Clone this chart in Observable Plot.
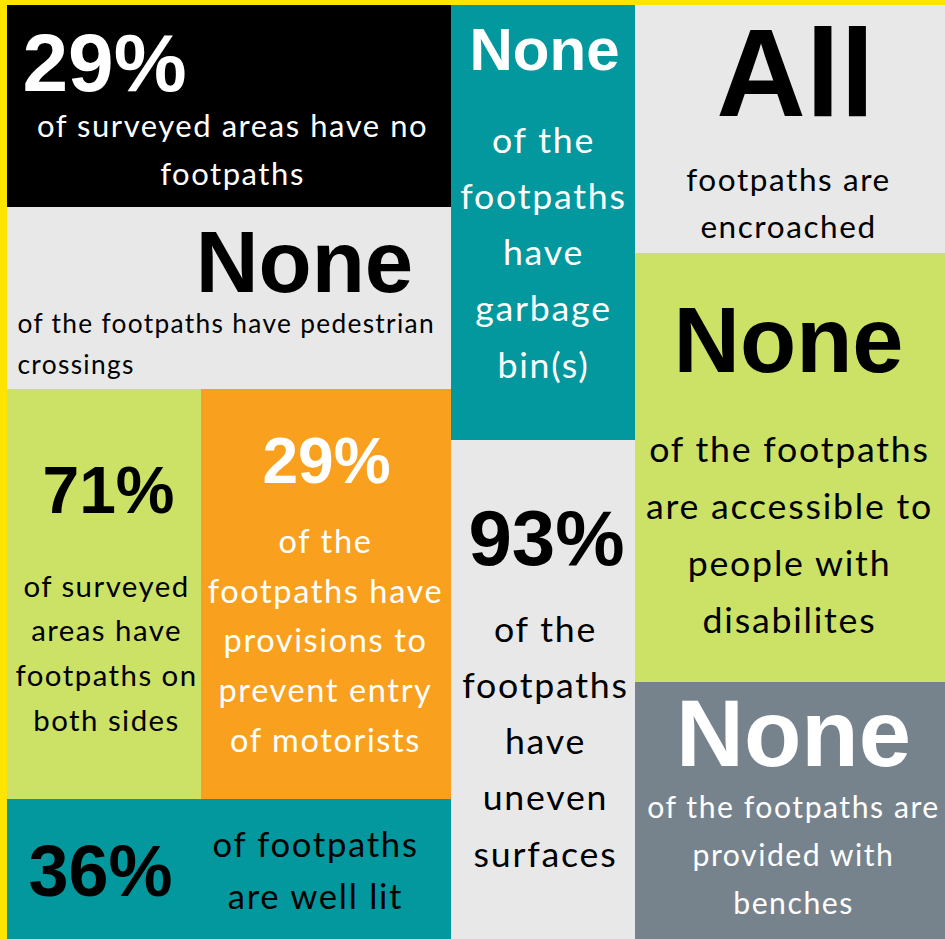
<!DOCTYPE html>
<html><head><meta charset="utf-8">
<script src="https://cdn.jsdelivr.net/npm/d3@7"></script>
<script src="https://cdn.jsdelivr.net/npm/@observablehq/plot@0.6"></script>
<style>
html,body{margin:0;padding:0;background:#ffe400;}
#chart svg{display:block;}
#chart g[font-family^="Lato"] text{letter-spacing:0.05em;}
</style>
</head><body><div id="chart"></div>
<script>
// ---- data ----
const headlines = ["29%", "None", "71%", "29%", "36%", "None", "93%", "All", "None", "None"];
const captions = [
  "of surveyed areas have no\nfootpaths",
  "of the footpaths have pedestrian\ncrossings",
  "of surveyed\nareas have\nfootpaths on\nboth sides",
  "of the\nfootpaths have\nprovisions to\nprevent entry\nof motorists",
  "of footpaths\nare well lit",
  "of the\nfootpaths\nhave\ngarbage\nbin(s)",
  "of the\nfootpaths\nhave\nuneven\nsurfaces",
  "footpaths are\nencroached",
  "of the footpaths\nare accessible to\npeople with\ndisabilites",
  "of the footpaths are\nprovided with\nbenches"
];

// ---- layout (cell boxes in page units) ----
const boxes = [
  [7, 451, 5, 207], [7, 451, 207, 389], [7, 201, 389, 799], [201, 451, 389, 799], [7, 451, 799, 939],
  [451, 635, 5, 440], [451, 635, 440, 939], [635, 945, 5, 253], [635, 945, 253, 682], [635, 945, 682, 939]
];
// headline: x, y, size, anchor ; caption: x, y, size, lineHeight, anchor
const headPos = [
  [22, 64, 82, "start"], [304, 264, 87, "middle"], [108, 491, 66, "middle"], [326, 462, 64, "middle"], [100, 872, 72, "middle"],
  [544, 50, 60, "middle"], [546, 540, 78, "middle"], [795, 76, 124, "middle"], [788, 342, 92, "middle"], [793, 735, 94, "middle"]
];
const capPos = [
  [232, 145, 31, 1.54, "middle"], [17, 340, 26.3, 1.56, "start"], [106, 649, 29.4, 1.52, "middle"], [325, 636, 32.5, 1.53, "middle"], [315, 866, 34.6, 1.5, "middle"],
  [543, 247, 35.7, 1.57, "middle"], [545, 736, 35.7, 1.57, "middle"], [788, 199, 31.5, 1.5, "middle"], [789, 529, 35.7, 1.6, "middle"], [793, 850, 30.2, 1.6, "middle"]
];
const palette = ["#000000", "#e8e8e8", "#cbe266", "#f9a11f", "#03989e", "#03989e", "#e8e8e8", "#e8e8e8", "#cbe266", "#77838c"];
const headColor = ["#fff", "#000", "#000", "#fff", "#000", "#fff", "#000", "#000", "#000", "#fff"];
const capColor = ["#fff", "#000", "#000", "#fff", "#000", "#fff", "#000", "#000", "#000", "#fff"];

const W = 945, H = 939;
const cells = headlines.map((h, i) => ({
  headline: h, caption: captions[i],
  x0: boxes[i][0], x1: boxes[i][1], y0: boxes[i][2], y1: boxes[i][3],
  bg: palette[i]
}));

const headMarks = cells.map((d, i) => Plot.text([d], {
  x: () => headPos[i][0], y: () => headPos[i][1], text: "headline",
  fill: headColor[i], fontSize: headPos[i][2], fontWeight: 700,
  fontFamily: "'Liberation Sans', Arial, sans-serif", textAnchor: headPos[i][3], lineAnchor: "middle"
}));
const capMarks = cells.map((d, i) => Plot.text([d], {
  x: () => capPos[i][0], y: () => capPos[i][1], text: "caption",
  fill: capColor[i], fontSize: capPos[i][2], lineHeight: capPos[i][3], fontWeight: 400,
  fontFamily: "Lato, 'Open Sans', sans-serif", textAnchor: capPos[i][4], lineAnchor: "middle"
}));

const chart = Plot.plot({
  width: W, height: H, margin: 0,
  x: {domain: [0, W], axis: null},
  y: {domain: [0, H], reverse: true, axis: null},
  style: {background: "#ffe400", overflow: "hidden"},
  marks: [
    Plot.rect(cells, {x1: "x0", x2: "x1", y1: "y0", y2: "y1", fill: "bg", inset: 0}),
    ...headMarks,
    ...capMarks
  ]
});
document.getElementById("chart").append(chart);
</script>
</body></html>
